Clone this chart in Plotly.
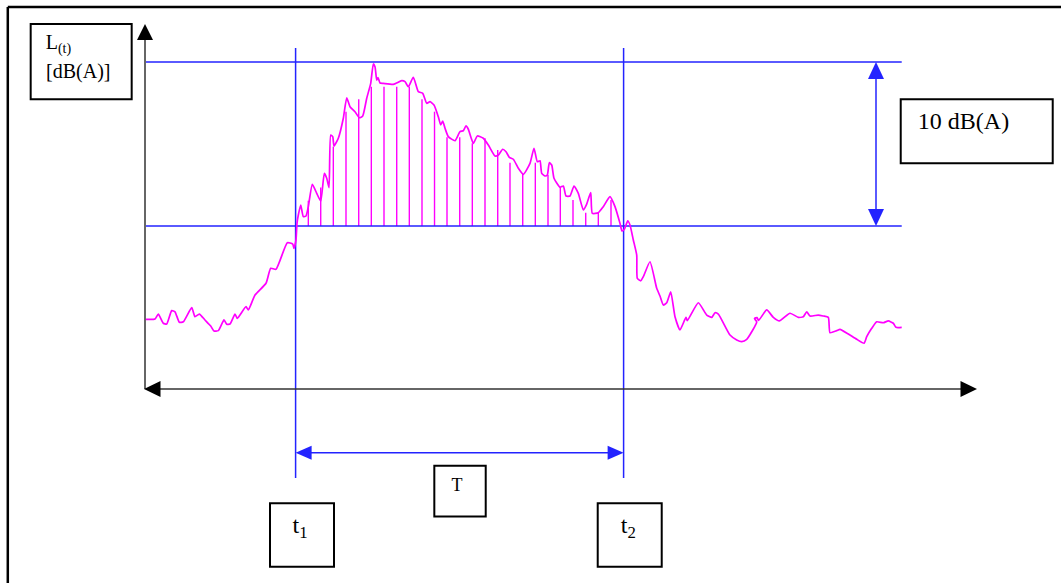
import plotly.graph_objects as go

# ---------------- data ----------------
# time axis in seconds, level in dB(A)
time_s = [0, 2.25, 3.08, 4.33, 5.18, 6.43, 7.25, 8.33, 9.33, 11.43,
          12.25, 13.33, 14.75, 16.18, 17.0, 18.08, 19.5, 20.18, 21.0, 22.25,
          22.83, 25.0, 25.58, 27.25, 30.0, 31.18, 32.5, 35.33, 36.68, 37.0,
          37.5, 37.75, 38.08, 38.68, 39.33, 40.0, 40.58, 41.58, 42.68, 43.68,
          44.58, 45.18, 45.75, 46.18, 46.68, 47.0, 48.08, 49.33, 50.18, 51.0,
          52.25, 53.33, 54.18, 55.18, 56.18, 56.83, 57.25, 57.68, 58.0, 58.5,
          59.33, 61.83, 63.93, 64.75, 65.58, 66.83, 68.08, 69.18, 70.18, 71.0,
          72.0, 73.08, 73.68, 74.18, 74.75, 75.58, 77.25, 78.5, 79.33, 80.0,
          80.58, 81.83, 82.83, 84.33, 85.58, 87.25, 88.08, 89.18, 90.0, 90.83,
          91.83, 93.08, 94.33, 96.0, 97.0, 97.83, 98.5, 98.93, 99.75, 100.33,
          100.83, 101.43, 102.0, 103.5, 104.33, 105.0, 106.0, 107.0, 108.08, 109.33,
          110.18, 111.18, 111.58, 113.08, 114.33, 116.0, 117.25, 118.5, 119.0, 119.63,
          120.43, 121.0, 121.83, 122.68, 122.83, 123.68, 124.33, 126.0, 127.68, 128.5,
          129.33, 130.18, 131.18, 132.25, 133.5, 135.0, 135.33, 138.08, 140.18, 141.43,
          142.25, 143.08, 146.0, 147.68, 148.93, 150.18, 152.68, 152.13, 152.75, 153.13,
          155.18, 156.83, 158.33, 161.0, 163.08, 164.33, 165.18, 166.0, 168.08, 169.33,
          170.58, 171.0, 172.68, 173.5, 175.58, 177.68, 179.5, 180.18, 181.43, 182.68,
          184.33, 185.58, 186.83, 187.5, 188.93]

level_db = [64.31, 64.33, 64.63, 64.07, 64.02, 64.84, 64.77, 64.13, 64.16, 65.02,
            64.47, 64.63, 64.27, 63.90, 63.60, 63.62, 64.27, 64.01, 64.02, 64.63,
            64.37, 65.08, 64.88, 65.79, 66.51, 67.42, 67.36, 68.98, 68.90, 68.64,
            69.15, 70.16, 70.67, 71.28, 70.57, 70.61, 71.18, 72.54, 71.99, 71.52,
            73.21, 72.91, 72.34, 75.55, 75.45, 74.88, 75.35, 76.57, 77.82, 77.27,
            76.97, 76.60, 76.71, 77.79, 78.70, 79.88, 79.71, 78.90, 79.05, 78.72,
            78.70, 78.64, 78.86, 78.80, 78.49, 79.07, 78.19, 78.09, 77.48, 77.58,
            77.38, 76.66, 76.16, 76.40, 75.96, 75.45, 75.20, 75.75, 75.81, 76.10,
            75.90, 75.04, 75.49, 75.35, 74.94, 74.27, 74.33, 74.68, 74.53, 74.19,
            74.07, 73.52, 73.15, 73.82, 74.74, 73.92, 73.98, 73.21, 73.05, 73.11,
            73.86, 73.72, 72.91, 72.36, 72.44, 71.83, 71.83, 72.44, 71.99, 70.98,
            71.34, 72.03, 70.77, 70.81, 71.18, 71.79, 71.18, 70.16, 69.70, 69.82,
            70.32, 70.06, 69.15, 68.23, 66.81, 66.66, 66.91, 67.82, 66.20, 65.73,
            65.18, 65.32, 65.99, 64.47, 63.66, 64.43, 64.23, 65.32, 64.57, 64.43,
            64.71, 64.63, 63.35, 63.05, 62.95, 63.09, 64.15, 64.36, 64.42, 64.24,
            64.88, 64.43, 64.21, 64.68, 64.43, 64.47, 64.77, 64.51, 64.57, 64.51,
            64.43, 63.49, 63.62, 63.70, 63.41, 63.09, 62.85, 63.25, 63.76, 64.16,
            64.10, 64.21, 64.07, 63.82, 63.82]

# hatch lines (exceedance area) : time and top level
hatch_time_s = [40.58, 43.68, 46.83, 50.0, 53.18, 56.33, 59.5, 62.68, 65.83, 69.0,
                72.13, 75.25, 78.43, 81.58, 84.75, 87.93, 91.0, 94.18, 97.33, 100.5,
                103.58, 106.75, 109.93, 113.08, 116.25]
hatch_top_db = [71.54, 72.34, 74.84, 76.97, 77.73, 78.49, 78.49, 78.49, 78.49, 77.73,
                76.97, 75.41, 75.41, 75.04, 75.35, 74.63, 73.86, 73.17, 73.86, 73.11,
                72.36, 71.59, 70.81, 70.81, 71.59]

threshold_db = 70.0      # lower reference line
step_db = 10.0           # 10 dB(A) band
t1_s = 37.4
t2_s = 119.4

label_texts = ["L<sub>(t)</sub>", "[dB(A)]", "10 dB(A)", "T", "t<sub>1</sub>", "t<sub>2</sub>"]

# ---------------- styling / layout ----------------
MAGENTA = "#ff00ff"
BLUE = "#2323ff"
AXIS = "#333333"
FONT = "Liberation Serif, Times New Roman, serif"

W, H = 1061, 583
X_RANGE = [-36.5, 228.75]
Y_RANGE = [48.2317, 83.7805]
PX_PER_X = W / (X_RANGE[1] - X_RANGE[0])
PX_PER_Y = H / (Y_RANGE[1] - Y_RANGE[0])

fig = go.Figure()

# hatch lines
hx, hy = [], []
for t, top in zip(hatch_time_s, hatch_top_db):
    hx += [t, t, None]
    hy += [threshold_db, top, None]
fig.add_trace(go.Scatter(x=hx, y=hy, mode="lines",
                         line=dict(color=MAGENTA, width=1.4),
                         hoverinfo="skip", showlegend=False))

# reference lines
for lvl in (threshold_db, threshold_db + step_db):
    fig.add_trace(go.Scatter(x=[time_s[0], time_s[-1]], y=[lvl, lvl], mode="lines",
                             line=dict(color=BLUE, width=1.5),
                             hoverinfo="skip", showlegend=False))

# t1 / t2 vertical lines
V_TOP, V_BOT = 80.85, 54.63
for t in (t1_s, t2_s):
    fig.add_trace(go.Scatter(x=[t, t], y=[V_TOP, V_BOT], mode="lines",
                             line=dict(color=BLUE, width=1.5),
                             hoverinfo="skip", showlegend=False))

# the level curve
fig.add_trace(go.Scatter(x=time_s, y=level_db, mode="lines",
                         line=dict(color=MAGENTA, width=1.7, shape="spline", smoothing=0.5),
                         name="L(t)", showlegend=False))

shapes = []


def shaft(x0, y0, x1, y1, color, width=1.5):
    shapes.append(dict(type="line", xref="x", yref="y", x0=x0, y0=y0, x1=x1, y1=y1,
                       line=dict(color=color, width=width)))


def head(tx, ty, direction, length_px, width_px, color):
    dx, dy = {"up": (0, 1), "down": (0, -1), "left": (-1, 0), "right": (1, 0)}[direction]
    bx = tx - dx * length_px / PX_PER_X
    by = ty - dy * length_px / PX_PER_Y
    px = dy * (width_px / 2) / PX_PER_X
    py = dx * (width_px / 2) / PX_PER_Y
    path = f"M {tx},{ty} L {bx + px},{by + py} L {bx - px},{by - py} Z"
    shapes.append(dict(type="path", xref="x", yref="y", path=path,
                       fillcolor=color, line=dict(width=0)))


# y axis (up arrow)
Y_AXIS_T = -0.25
X_AXIS_L = 60.06
Y_TIP = 82.32
shaft(Y_AXIS_T, X_AXIS_L, Y_AXIS_T, Y_TIP - 0.5, AXIS)
head(Y_AXIS_T, Y_TIP, "up", 16, 16, "#000000")
# x axis (double arrow)
X_LEFT, X_RIGHT = -0.5, 207.75
shaft(X_LEFT + 2, X_AXIS_L, X_RIGHT - 2, X_AXIS_L, AXIS)
head(X_LEFT, X_AXIS_L, "left", 16.5, 16, "#000000")
head(X_RIGHT, X_AXIS_L, "right", 16.5, 16, "#000000")
# 10 dB arrow
ARR_T = 182.5
shaft(ARR_T, threshold_db + 0.5, ARR_T, threshold_db + step_db - 0.5, BLUE)
head(ARR_T, threshold_db + step_db, "up", 17, 16, BLUE)
head(ARR_T, threshold_db, "down", 17, 16, BLUE)
# T arrow
T_ARR_L = 56.18
shaft(t1_s + 2, T_ARR_L, t2_s - 2, T_ARR_L, BLUE)
head(t1_s, T_ARR_L, "left", 16, 14, BLUE)
head(t2_s, T_ARR_L, "right", 16, 14, BLUE)

# label texts (drawn as a text trace)
label_x = [-21.9, -16.93, 204.38, 77.75, 38.5, 120.58]
label_y = [81.1, 79.33, 76.3, 54.09, 51.67, 51.67]
label_size = [20, 20, 24, 18, 24, 24]
fig.add_trace(go.Scatter(x=label_x, y=label_y, mode="text", text=label_texts,
                         textposition="middle center",
                         textfont=dict(family=FONT, size=label_size, color="#000000"),
                         hoverinfo="skip", showlegend=False))

# label boxes
for x0, x1, y0, y1 in [(-28.83, -3.58, 77.73, 82.32),
                       (188.68, 226.68, 73.82, 77.73),
                       (72.08, 84.93, 52.28, 55.38),
                       (31.0, 47.0, 49.23, 53.09),
                       (112.93, 128.93, 49.23, 53.09)]:
    shapes.append(dict(type="rect", xref="x", yref="y", x0=x0, x1=x1, y0=y0, y1=y1,
                       line=dict(color="#000000", width=2)))
# outer frame (top and left edges)
shapes.append(dict(type="line", xref="x", yref="y", x0=-34.55, x1=240, y0=83.354, y1=83.354,
                   line=dict(color="#000000", width=2.5)))
shapes.append(dict(type="line", xref="x", yref="y", x0=-34.55, x1=-34.55, y0=83.354, y1=40,
                   line=dict(color="#000000", width=2.5)))

fig.update_layout(
    width=W, height=H, autosize=False,
    margin=dict(l=0, r=0, t=0, b=0),
    paper_bgcolor="white", plot_bgcolor="white",
    xaxis=dict(range=X_RANGE, visible=False, fixedrange=True),
    yaxis=dict(range=Y_RANGE, visible=False, fixedrange=True),
    shapes=shapes,
    showlegend=False,
)

fig.write_html("out.html", config={"displayModeBar": False},
               post_script="document.body.style.margin='0px';document.body.style.overflow='hidden';")
